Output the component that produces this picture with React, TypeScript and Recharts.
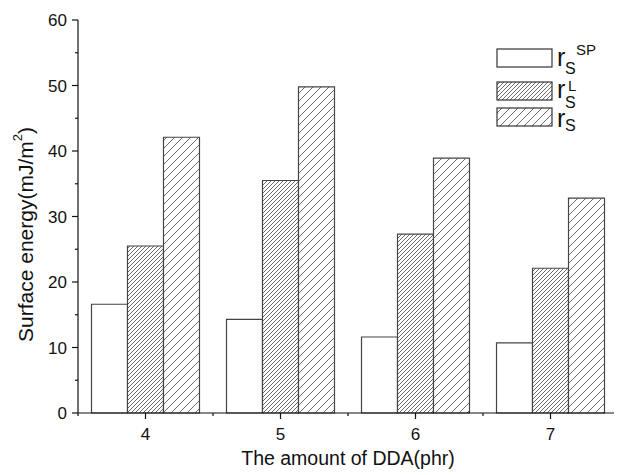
import React from 'react';
import { BarChart, Bar, XAxis, YAxis, Legend } from 'recharts';

const categories = ['4', '5', '6', '7'];
const rSP = [16.6, 14.3, 11.6, 10.7];
const rL = [25.5, 35.5, 27.3, 22.1];
const rS = [42.1, 49.8, 38.9, 32.8];
const yTicks = [0, 5, 10, 15, 20, 25, 30, 35, 40, 45, 50, 55, 60];
const yMajorStep = 10;
const seriesKeys = ['sp', 'l', 's'];
const superscripts = ['SP', 'L', ''];

const data = categories.map((c, i) => ({ name: c, sp: rSP[i], l: rL[i], s: rS[i] }));

const FONT = "Arial, 'Liberation Sans', sans-serif";
const TICK = 6;
const MINOR = 3;
const XGAP = 9;
const YGAP = 5;
const AXIS = '#111';

const XTick = (props: any) => {
  const { x, y, payload, index, visibleTicksCount } = props;
  const axisY = y - TICK - XGAP;
  const half = payload && typeof payload.offset === 'number' ? payload.offset : 0;
  const last = index === visibleTicksCount - 1;
  return (
    <g>
      <line x1={x} x2={x} y1={axisY} y2={axisY + TICK} stroke={AXIS} strokeWidth={1.2} />
      {half > 0 && (
        <line x1={x - half} x2={x - half} y1={axisY} y2={axisY + MINOR} stroke={AXIS} strokeWidth={1.2} />
      )}
      {half > 0 && last && (
        <line x1={x + half} x2={x + half} y1={axisY} y2={axisY + MINOR} stroke={AXIS} strokeWidth={1.2} />
      )}
      <text x={x} y={y} dy="0.71em" textAnchor="middle" fontSize={17} fontFamily={FONT} fill="#111">
        {payload.value}
      </text>
    </g>
  );
};

const YTick = (props: any) => {
  const { x, y, payload } = props;
  const axisX = x + TICK + YGAP;
  const major = payload.value % yMajorStep === 0;
  return (
    <g>
      <line x1={axisX - (major ? TICK : MINOR)} x2={axisX} y1={y} y2={y} stroke={AXIS} strokeWidth={1.2} />
      {major && (
        <text x={x} y={y} dy="0.36em" textAnchor="end" fontSize={17} fontFamily={FONT} fill="#111">
          {payload.value}
        </text>
      )}
    </g>
  );
};

const YLabel = (props: any) => {
  const vb = props.viewBox || { x: 0, y: 0, width: 70, height: 393 };
  const cx = vb.x + 17;
  const cy = vb.y + vb.height / 2 + 18;
  return (
    <text
      x={cx}
      y={cy}
      transform={`rotate(-90 ${cx} ${cy})`}
      textAnchor="middle"
      dominantBaseline="central"
      fontSize={21}
      fontFamily={FONT}
      fill="#111"
    >
      Surface energy(mJ/m
      <tspan dy={-8} fontSize={13}>2</tspan>
      <tspan dy={8}>)</tspan>
    </text>
  );
};

const XLabel = (props: any) => {
  const vb = props.viewBox || { x: 70, y: 405, width: 540, height: 62 };
  return (
    <text x={vb.x + vb.width / 2} y={vb.y + 52} textAnchor="middle" fontSize={19.5} fontFamily={FONT} fill="#111">
      The amount of DDA(phr)
    </text>
  );
};

const legendRows = [
  { box: 9, r: 26, sub: 34, sup: 15, supX: 86 },
  { box: 42, r: 58, sub: 68, sup: 51, supX: 78 },
  { box: 68, r: 87, sub: 91, sup: 0, supX: 0 },
];

const LegendContent = (props: any) => {
  const payload: any[] = props.payload || [];
  return (
    <svg width={125} height={100} style={{ display: 'block', overflow: 'visible' }}>
      {seriesKeys.map((key, i) => {
        const entry = payload.find((p: any) => p.dataKey === key) || payload[i];
        const row = legendRows[i];
        if (!entry || !row) return null;
        const fill = (entry.payload && entry.payload.fill) || entry.color;
        return (
          <g key={key}>
            <rect x={7} y={row.box} width={55} height={18} fill={fill} stroke="#333" strokeWidth={1.2} />
            <text x={67} y={row.r} fontSize={25} fontFamily={FONT} fill="#111">r</text>
            <text x={75} y={row.sub} fontSize={16} fontFamily={FONT} fill="#111">S</text>
            {superscripts[i] && (
              <text x={row.supX} y={row.sup} fontSize={15} fontFamily={FONT} fill="#111">{superscripts[i]}</text>
            )}
          </g>
        );
      })}
    </svg>
  );
};

export default function App() {
  return (
    <BarChart
      width={614}
      height={467}
      data={data}
      margin={{ top: 12, right: 4, bottom: 0, left: 0 }}
      barCategoryGap="10%"
      barGap={0}
    >
      <defs>
        <pattern id="hatchDense" patternUnits="userSpaceOnUse" width={4} height={4}>
          <rect x={0} y={0} width={4} height={4} fill="#fff" />
          <path d="M-1,1 l2,-2 M0,4 l4,-4 M3,5 l2,-2" stroke="#444" strokeWidth={0.8} />
        </pattern>
        <pattern id="hatchSparse" patternUnits="userSpaceOnUse" width={8} height={8}>
          <rect x={0} y={0} width={8} height={8} fill="#fff" />
          <path d="M-1,1 l2,-2 M0,8 l8,-8 M7,9 l2,-2" stroke="#444" strokeWidth={0.8} />
        </pattern>
      </defs>
      <XAxis
        dataKey="name"
        height={62}
        tickLine={false}
        tickSize={TICK}
        tickMargin={XGAP}
        tick={<XTick />}
        axisLine={{ stroke: AXIS, strokeWidth: 1.2 }}
        label={<XLabel />}
        interval={0}
      />
      <XAxis
        xAxisId="top"
        dataKey="name"
        orientation="top"
        height={0}
        tick={false}
        tickLine={false}
        axisLine={{ stroke: AXIS, strokeWidth: 1.2 }}
      />
      <YAxis
        width={70}
        domain={[0, 60]}
        ticks={yTicks}
        interval={0}
        tickLine={false}
        tickSize={TICK}
        tickMargin={YGAP}
        tick={<YTick />}
        axisLine={{ stroke: AXIS, strokeWidth: 1.2 }}
        label={<YLabel />}
      />
      <YAxis
        yAxisId="right"
        orientation="right"
        width={0}
        domain={[0, 60]}
        tick={false}
        tickLine={false}
        axisLine={{ stroke: AXIS, strokeWidth: 1.2 }}
      />
      <Legend
        layout="horizontal"
        verticalAlign="middle"
        align="center"
        content={<LegendContent />}
        wrapperStyle={{ position: 'absolute', left: 482, top: 32, width: 125, height: 100 }}
      />
      <Bar dataKey="sp" fill="#ffffff" stroke="#444" strokeWidth={1.2} isAnimationActive={false} />
      <Bar dataKey="l" fill="url(#hatchDense)" stroke="#444" strokeWidth={1.2} isAnimationActive={false} />
      <Bar dataKey="s" fill="url(#hatchSparse)" stroke="#444" strokeWidth={1.2} isAnimationActive={false} />
    </BarChart>
  );
}
